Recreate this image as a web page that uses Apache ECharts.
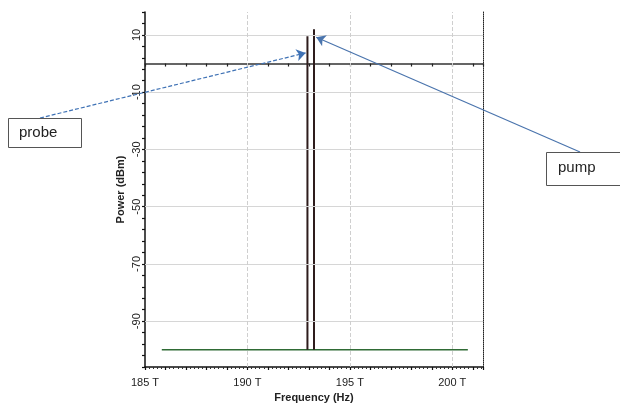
<!DOCTYPE html>
<html><head><meta charset="utf-8">
<script src="https://cdn.jsdelivr.net/npm/echarts@6/dist/echarts.min.js"></script>
<style>html,body{margin:0;padding:0;background:#fff}#c{width:620px;height:403px}</style>
</head><body><div id="c"></div>
<script>
// ---- data ----
const floorFreq = [185.82, 200.76];
const floorPower = [-100, -100];
const probeFreq = 192.93;
const probePower = 9.5;
const pumpFreq = 193.25;
const pumpPower = 12;
const spikeBase = -100;
const yLabelValues = [-90, -70, -50, -30, -10, 10];
const yTickValues = [-106, -102, -98, -94, -90, -86, -82, -78, -74, -70, -66, -62, -58, -54, -50, -46, -42, -38, -34, -30, -26, -22, -18, -14, -10, -6, -2, 2, 6, 10, 14, 18];
const xLabelValues = [185, 190, 195, 200];
const xGridValues = [190, 195, 200];
const yGridValues = [10, -10, -30, -50, -70, -90];
const probeArrowTip = [192.84, 3.7];
const pumpArrowTip = [193.36, 9.2];

const FONT = '"Liberation Sans", Arial, sans-serif';
const xMin = 185, xMax = 201.5, yMin = -106, yMax = 18;

const chart = echarts.init(document.getElementById('c'), null, {renderer: 'canvas'});

const gridMarks = [];
yGridValues.forEach(v => gridMarks.push({yAxis: v, lineStyle: {color: '#d6d6d6', type: 'solid', width: 1}}));
xGridValues.forEach(v => gridMarks.push({xAxis: v, lineStyle: {color: '#cfcfcf', type: 'dashed', width: 1}}));

const option = {
  animation: false,
  backgroundColor: '#fff',
  textStyle: {fontFamily: FONT},
  grid: {left: 145, right: 137, top: 12, bottom: 36, containLabel: false, outerBoundsMode: 'none'},
  xAxis: [
    {
      type: 'value', min: xMin, max: xMax, interval: 1, position: 'bottom',
      axisLine: {onZero: false, lineStyle: {color: '#111', width: 1.5}},
      axisTick: {show: true, length: 3, inside: false, lineStyle: {color: '#111', width: 1.2}},
      minorTick: {show: true, splitNumber: 5, length: 2, lineStyle: {color: '#333'}},
      splitLine: {show: false},
      axisLabel: {
        margin: 10, color: '#222', fontSize: 11, fontFamily: FONT,
        formatter: v => xLabelValues.indexOf(v) >= 0 ? v + ' T' : ''
      },
      name: 'Frequency (Hz)', nameLocation: 'middle', nameGap: 25, nameMoveOverlap: false,
      nameTextStyle: {fontWeight: 'bold', fontSize: 11, color: '#222', fontFamily: FONT}
    },
    {
      type: 'value', min: xMin, max: xMax, interval: 1,
      axisLine: {onZero: true, onZeroAxisIndex: 0, lineStyle: {color: '#333', width: 1.5}},
      axisTick: {show: true, length: 3, inside: true, lineStyle: {color: '#222', width: 1.2}},
      axisLabel: {show: false},
      splitLine: {show: false}
    }
  ],
  yAxis: [
    {
      type: 'value', min: yMin, max: yMax, position: 'left',
      axisLine: {onZero: false, lineStyle: {color: '#111', width: 1.5}},
      axisTick: {show: true, length: 3, customValues: yTickValues, lineStyle: {color: '#111', width: 1.2}},
      axisLabel: {
        customValues: yLabelValues, rotate: 90, margin: 3,
        color: '#222', fontSize: 11, fontFamily: FONT
      },
      splitLine: {show: false},
      name: 'Power (dBm)', nameLocation: 'middle', nameGap: 19, nameMoveOverlap: false,
      nameTextStyle: {fontWeight: 'bold', fontSize: 11, color: '#222', fontFamily: FONT}
    },
    {
      type: 'value', min: yMin, max: yMax, position: 'right',
      axisLine: {show: true, onZero: false, lineStyle: {color: '#222', width: 1, type: 'dotted'}},
      axisTick: {show: false}, axisLabel: {show: false}, splitLine: {show: false}
    }
  ],
  series: [
    {
      name: 'grid', type: 'line', data: [], z: 1, silent: true,
      markLine: {silent: true, symbol: 'none', label: {show: false}, animation: false, data: gridMarks}
    },
    {
      name: 'noise', type: 'line', z: 3,
      data: floorFreq.map((f, i) => [f, floorPower[i]]),
      showSymbol: false, lineStyle: {color: '#2f6b35', width: 1.5}
    },
    {
      name: 'probe', type: 'line', z: 4, clip: false,
      data: [[probeFreq, spikeBase], [probeFreq, probePower]],
      showSymbol: false, lineStyle: {color: '#2e1c1c', width: 2},
      markLine: {
        silent: true, symbol: ['none', 'arrow'], symbolSize: 9, label: {show: false},
        lineStyle: {color: '#3f72b5', width: 1.2, type: [4, 2]},
        data: [[{x: 40, y: 118}, {coord: probeArrowTip}]]
      }
    },
    {
      name: 'pump', type: 'line', z: 4, clip: false,
      data: [[pumpFreq, spikeBase], [pumpFreq, pumpPower]],
      showSymbol: false, lineStyle: {color: '#2e1c1c', width: 2},
      markLine: {
        silent: true, symbol: ['none', 'arrow'], symbolSize: 9, label: {show: false},
        lineStyle: {color: '#4a74ad', width: 1.2, type: 'solid'},
        data: [[{x: 580, y: 152}, {coord: pumpArrowTip}]]
      }
    }
  ],
  graphic: [
    {type: 'rect', left: 8, top: 118, shape: {width: 73, height: 29}, style: {fill: '#fff', stroke: '#555', lineWidth: 1}, z: 10},
    {type: 'text', left: 19, top: 125, style: {text: 'probe', font: '15px ' + FONT, fill: '#222'}, z: 11},
    {type: 'rect', left: 546, top: 152, shape: {width: 80, height: 33}, style: {fill: '#fff', stroke: '#555', lineWidth: 1}, z: 10},
    {type: 'text', left: 558, top: 160, style: {text: 'pump', font: '15px ' + FONT, fill: '#222'}, z: 11}
  ]
};
chart.setOption(option);
</script>
</body></html>
